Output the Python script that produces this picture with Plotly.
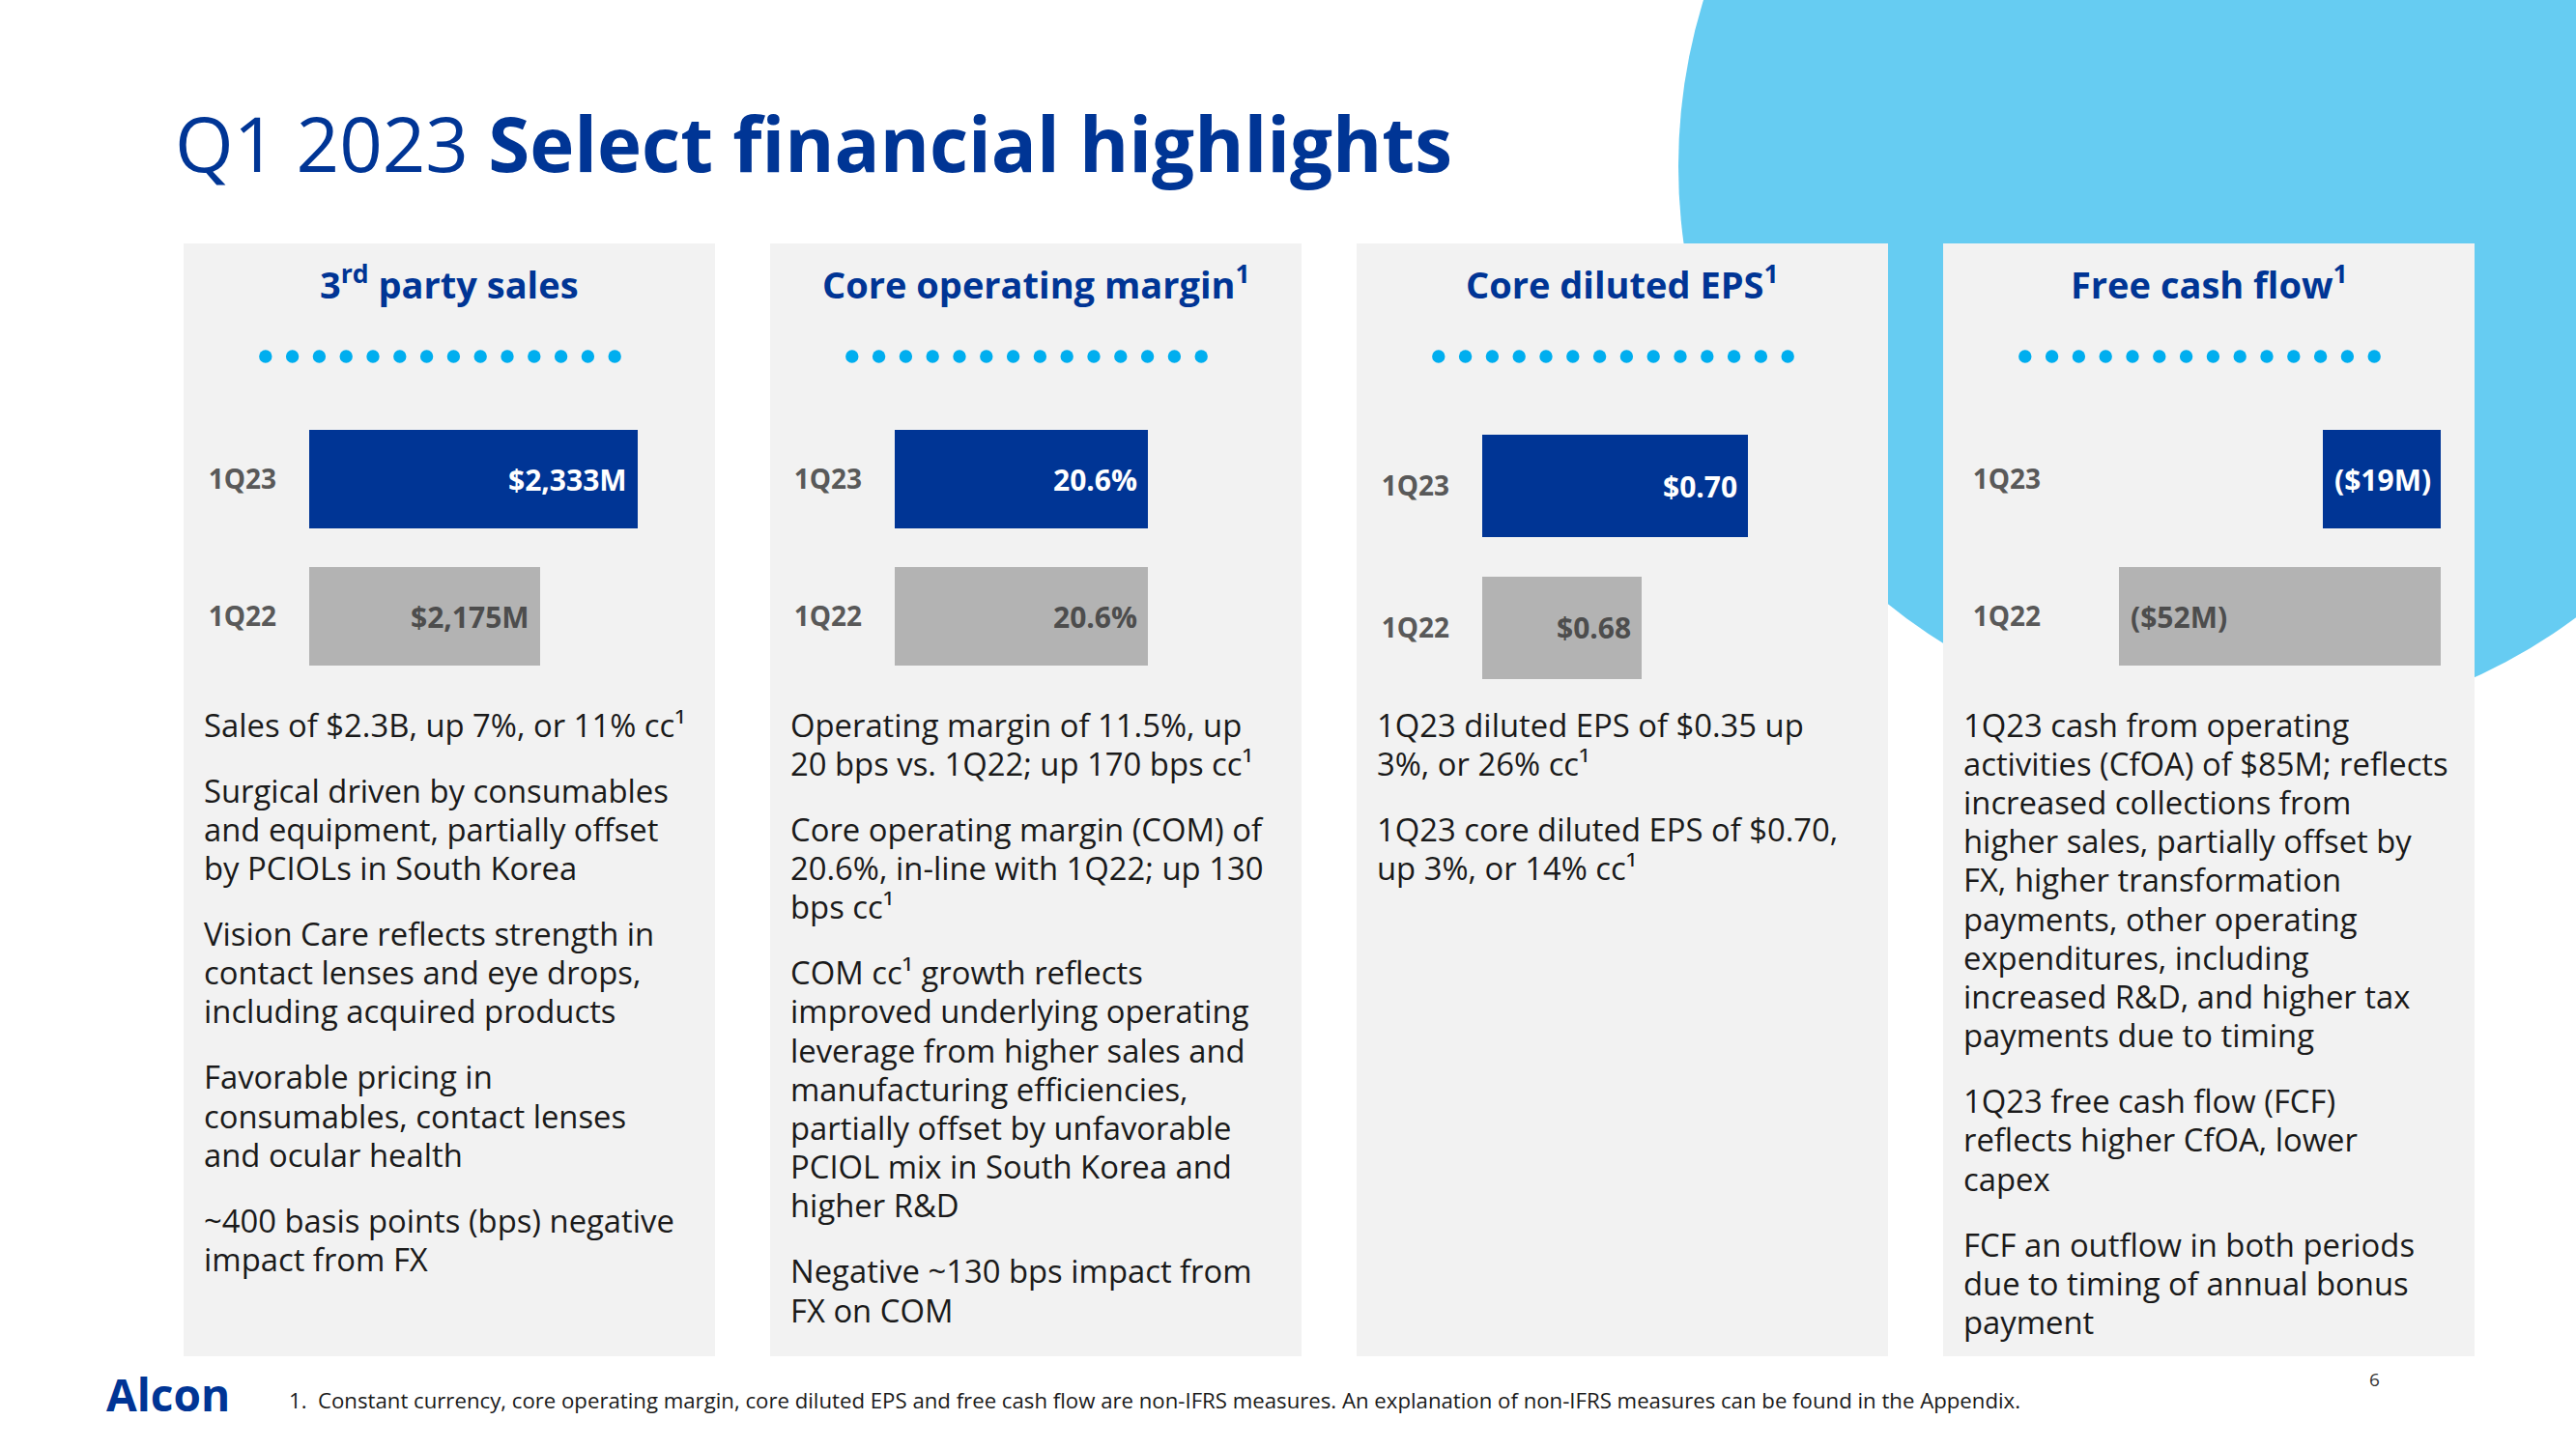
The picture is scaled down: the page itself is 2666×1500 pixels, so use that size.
import plotly.graph_objects as go

# ---------------- data ----------------
categories = ["1Q23", "1Q22"]

sales_values = [2333, 2175]
sales_labels = ["$2,333M", "$2,175M"]

com_values = [20.6, 20.6]
com_labels = ["20.6%", "20.6%"]

eps_values = [0.70, 0.68]
eps_labels = ["$0.70", "$0.68"]

fcf_values = [-19, -52]
fcf_labels = ["($19M)", "($52M)"]

panel_titles = [
    "3<sup>rd</sup> party sales",
    "Core operating margin<sup>1</sup>",
    "Core diluted EPS<sup>1</sup>",
    "Free cash flow<sup>1</sup>",
]

sales_text = [
    ["Sales of $2.3B, up 7%, or 11% cc¹"],
    ["Surgical driven by consumables", "and equipment, partially offset", "by PCIOLs in South Korea"],
    ["Vision Care reflects strength in", "contact lenses and eye drops,", "including acquired products"],
    ["Favorable pricing in", "consumables, contact lenses", "and ocular health"],
    ["~400 basis points (bps) negative", "impact from FX"],
]
com_text = [
    ["Operating margin of 11.5%, up", "20 bps vs. 1Q22; up 170 bps cc¹"],
    ["Core operating margin (COM) of", "20.6%, in-line with 1Q22; up 130", "bps cc¹"],
    ["COM cc¹ growth reflects", "improved underlying operating", "leverage from higher sales and",
     "manufacturing efficiencies,", "partially offset by unfavorable", "PCIOL mix in South Korea and", "higher R&D"],
    ["Negative ~130 bps impact from", "FX on COM"],
]
eps_text = [
    ["1Q23 diluted EPS of $0.35 up", "3%, or 26% cc¹"],
    ["1Q23 core diluted EPS of $0.70,", "up 3%, or 14% cc¹"],
]
fcf_text = [
    ["1Q23 cash from operating", "activities (CfOA) of $85M; reflects", "increased collections from",
     "higher sales, partially offset by", "FX, higher transformation", "payments, other operating",
     "expenditures, including", "increased R&D, and higher tax", "payments due to timing"],
    ["1Q23 free cash flow (FCF)", "reflects higher CfOA, lower", "capex"],
    ["FCF an outflow in both periods", "due to timing of annual bonus", "payment"],
]

footnote = ("1.  Constant currency, core operating margin, core diluted EPS and free cash flow are "
            "non-IFRS measures. An explanation of non-IFRS measures can be found in the Appendix.")

# ---------------- styling ----------------
W, H = 2666, 1500
FONT = "Open Sans"
BLUE = "#003595"
GRAY_BAR = "#B3B3B3"
PANEL = "#F2F2F2"
DOT = "#00AEEF"
CIRCLE = "#66CCF2"
TXT = "#1A1A1A"
CAT = "#595959"
GRAY_TXT = "#4D4D4D"
BODY_SIZE = 32.8
LINE_H = 40.2
PARA_GAP = 27.8


def fx(x):
    return x / W


def fy(y):
    return 1 - y / H


fig = go.Figure()
shapes = []
annotations = []

# big decorative circle (top right)
ccx, ccy, cr = 2319, 172, 582
shapes.append(dict(type="circle", xref="paper", yref="paper", layer="below",
                   x0=fx(ccx - cr), x1=fx(ccx + cr), y0=fy(ccy + cr), y1=fy(ccy - cr),
                   fillcolor=CIRCLE, line=dict(width=0)))

panel_lefts = [190, 797, 1404, 2011]
panel_w = 550
panel_top, panel_bottom = 252, 1404

# per-panel axis geometry (pixels)
panels = [
    dict(vals=sales_values, labels=sales_labels, xdom=(320, 734.6), xrange=[1800, 2450],
         ydom=(425, 709), bw=0.718, text=sales_text),
    dict(vals=com_values, labels=com_labels, xdom=(926, 1307.6), xrange=[0, 30],
         ydom=(425, 709), bw=0.718, text=com_text),
    dict(vals=eps_values, labels=eps_labels, xdom=(1534, 1919), xrange=[0.65, 0.72],
         ydom=(430, 723), bw=0.724, text=eps_text),
    dict(vals=fcf_values, labels=fcf_labels, xdom=(2146, 2526), xrange=[-59.4, 0],
         ydom=(425, 709), bw=0.718, text=fcf_text),
]

layout_axes = {}
for i, p in enumerate(panels):
    n = "" if i == 0 else str(i + 1)
    left = panel_lefts[i]
    # panel background
    shapes.append(dict(type="rect", xref="paper", yref="paper", layer="below",
                       x0=fx(left), x1=fx(left + panel_w), y0=fy(panel_bottom), y1=fy(panel_top),
                       fillcolor=PANEL, line=dict(width=0)))
    # title
    annotations.append(dict(text=panel_titles[i], xref="paper", yref="paper",
                            x=fx(left + panel_w / 2), y=fy(296 + 0.65 * 38 + 1),
                            xanchor="center", yanchor="bottom", showarrow=False,
                            font=dict(family=FONT, size=38, color=BLUE, weight="bold")))
    # dotted separator
    dcx = left + panel_w / 2 - 9.5
    for k in range(14):
        cx = dcx + (k - 6.5) * 27.8
        shapes.append(dict(type="circle", xref="paper", yref="paper", layer="above",
                           x0=fx(cx - 6.7), x1=fx(cx + 6.7), y0=fy(369 + 6.7), y1=fy(369 - 6.7),
                           fillcolor=DOT, line=dict(width=0)))
    # bars
    fig.add_trace(go.Bar(
        x=p["vals"], y=categories, orientation="h", width=p["bw"],
        marker=dict(color=[BLUE, GRAY_BAR], line=dict(width=0)),
        xaxis="x" + n, yaxis="y" + n, hoverinfo="skip", showlegend=False,
    ))
    layout_axes["xaxis" + n] = dict(domain=[fx(p["xdom"][0]), fx(p["xdom"][1])], range=p["xrange"],
                                    visible=False, fixedrange=True, anchor="y" + n)
    layout_axes["yaxis" + n] = dict(domain=[fy(p["ydom"][1]), fy(p["ydom"][0])], type="category",
                                    categoryorder="array", categoryarray=categories, range=[1.5, -0.5],
                                    showgrid=False, zeroline=False, showline=False, ticks="",
                                    ticklabelstandoff=33, anchor="x" + n, fixedrange=True,
                                    tickfont=dict(family=FONT, size=28, color=CAT, weight="bold"))
    # value labels
    for j, (v, lab) in enumerate(zip(p["vals"], p["labels"])):
        col = "white" if j == 0 else GRAY_TXT
        if v >= 0:
            anc, sh = "right", -9
        else:
            anc, sh = "left", 10
        annotations.append(dict(text=lab, xref="x" + n, yref="y" + n, x=v, y=categories[j],
                                xanchor=anc, yanchor="middle", xshift=sh, showarrow=False,
                                font=dict(family=FONT, size=30, color=col, weight="bold")))
    # body text
    y = 750
    for para in p["text"]:
        for ln in para:
            annotations.append(dict(text=ln, xref="paper", yref="paper", x=fx(left + 19), y=fy(y),
                                    xanchor="left", yanchor="middle", showarrow=False,
                                    font=dict(family=FONT, size=BODY_SIZE, color=TXT)))
            y += LINE_H
        y += PARA_GAP

# main title
annotations.append(dict(text="Q1 2023 <b>Select financial highlights</b>", xref="paper", yref="paper",
                        x=fx(179), y=fy(148), xanchor="left", yanchor="middle", showarrow=False,
                        font=dict(family=FONT, size=78, color=BLUE)))
# logo text
annotations.append(dict(text="<b>Alcon</b>", xref="paper", yref="paper", x=fx(108), y=fy(1442.5),
                        xanchor="left", yanchor="middle", showarrow=False,
                        font=dict(family=FONT, size=46, color=BLUE)))
# footnote
annotations.append(dict(text=footnote, xref="paper", yref="paper", x=fx(297), y=fy(1449),
                        xanchor="left", yanchor="middle", showarrow=False,
                        font=dict(family=FONT, size=22.2, color=TXT)))
# page number
annotations.append(dict(text="6", xref="paper", yref="paper", x=fx(2457), y=fy(1428),
                        xanchor="center", yanchor="middle", showarrow=False,
                        font=dict(family=FONT, size=19, color="#333333")))

fig.update_layout(
    width=W, height=H, margin=dict(l=0, r=0, t=0, b=0),
    template="none", paper_bgcolor="white", plot_bgcolor="rgba(0,0,0,0)",
    showlegend=False, hovermode=False, bargap=0,
    shapes=shapes, annotations=annotations, font=dict(family=FONT),
    **layout_axes,
)

fig.write_html("out.html", config={"displayModeBar": False},
               post_script="document.body.style.margin='0';document.body.style.overflow='hidden';")
